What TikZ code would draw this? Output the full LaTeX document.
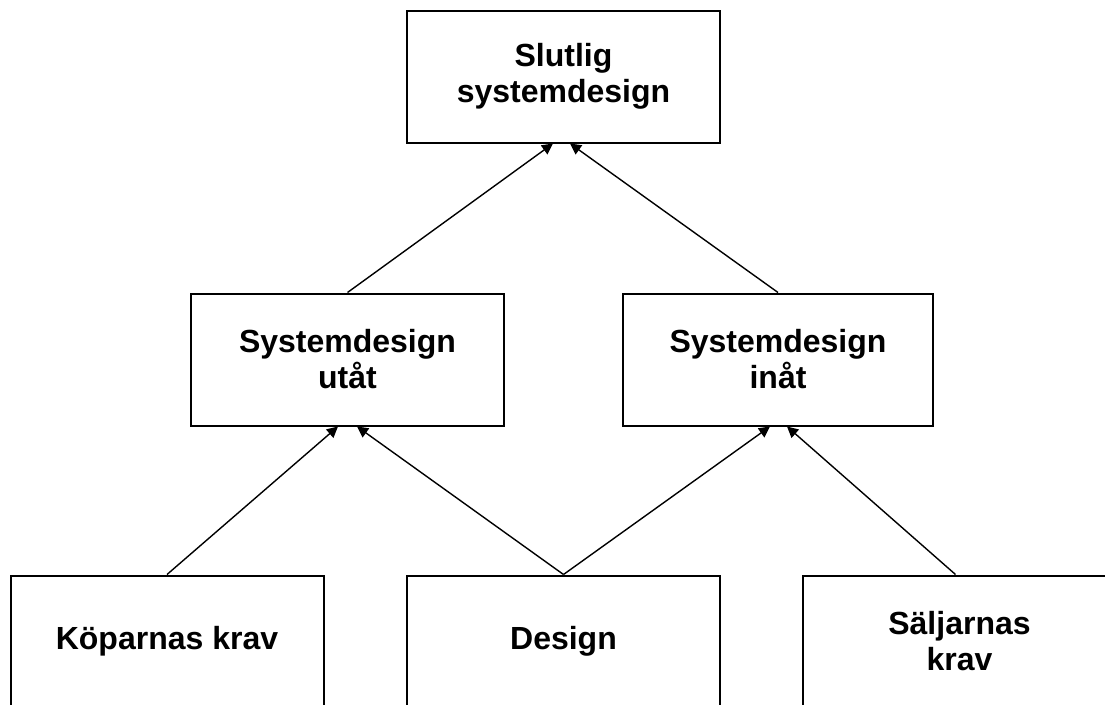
\documentclass[tikz,border=0pt]{standalone}
\usepackage{fontspec}
\setmainfont{Liberation Sans}
\usetikzlibrary{arrows.meta}
\begin{document}
\begin{tikzpicture}[x=1pt,y=-1pt,
  box/.style={draw, line width=2pt, inner sep=0pt, minimum width=313pt,
    minimum height=132pt, align=center,
    font=\fontsize{32}{36}\selectfont\bfseries},
  link/.style={line width=1.4pt, -{Triangle[length=11pt,width=11pt]}}]
\clip (0,0) rectangle (1105,704);
\fill[white] (0,0) rectangle (1105,704);
% nodes
\node[box] (top) at (563.5,76.5) {Slutlig\\systemdesign};
\node[box] (ut)  at (347.5,359.5) {Systemdesign\\utåt};
\node[box, minimum width=310pt] (in) at (778,359.5) {Systemdesign\\inåt};
\node[box] (kop) at (167,641.5) {Köparnas krav};
\node[box] (des) at (563.5,641.5) {Design};
\node[box] (sal) at (959.5,641.5) {Säljarnas\\krav};
% arrow end points on the lower edges
\coordinate (topL) at ([xshift=-10.5pt]top.south);
\coordinate (topR) at ([xshift=6.5pt]top.south);
\coordinate (utL) at ([xshift=-9.5pt]ut.south);
\coordinate (utR) at ([xshift=9.5pt]ut.south);
\coordinate (inL) at ([xshift=-8pt]in.south);
\coordinate (inR) at ([xshift=9pt]in.south);
\coordinate (salTop) at ([xshift=-4pt]sal.north);
% connectors
\draw[link] (ut.north) -- (topL);
\draw[link] (in.north) -- (topR);
\draw[link] (kop.north) -- (utL);
\draw[link] (des.north) -- (utR);
\draw[link] (des.north) -- (inL);
\draw[link] (salTop) -- (inR);
\end{tikzpicture}
\end{document}
